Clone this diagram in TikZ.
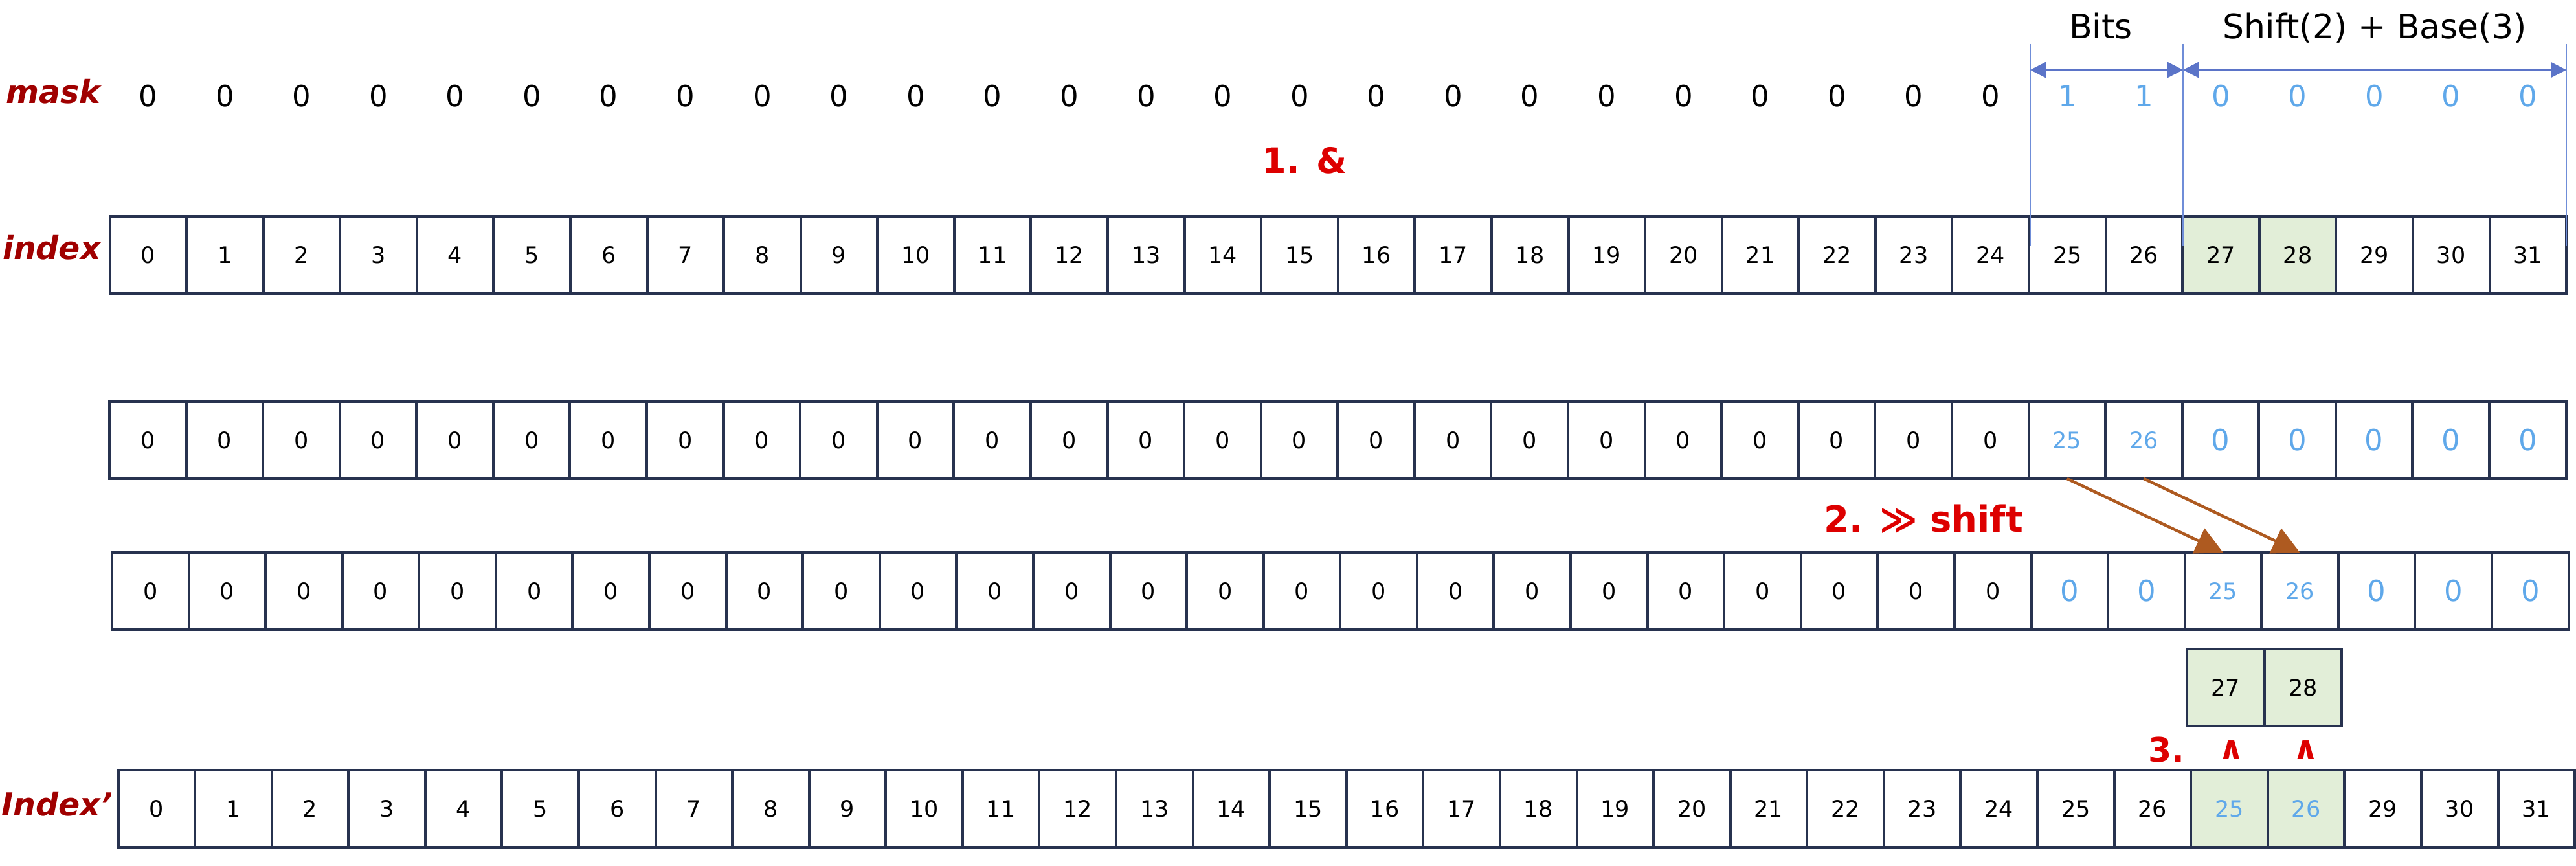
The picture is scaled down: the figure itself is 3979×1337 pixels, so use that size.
\documentclass[tikz,border=0pt]{standalone}
\usepackage{fontspec}
\setmainfont{DejaVu Sans}
\usetikzlibrary{arrows.meta}
\definecolor{navy}{HTML}{27324F}
\definecolor{bluedig}{HTML}{5FA8EA}
\definecolor{dimblue}{HTML}{5B74C8}
\definecolor{dimline}{HTML}{6F8DD8}
\definecolor{cellgreen}{HTML}{E2EED8}
\definecolor{arrowbrown}{HTML}{AE5A20}
\definecolor{stepred}{HTML}{DD0000}
\definecolor{labelred}{HTML}{A00000}
\begin{document}
\begin{tikzpicture}[x=1pt,y=-1pt,
  cell/.style={draw=navy, line width=4pt, minimum width=118.58pt, minimum height=119pt,
    inner sep=0pt, outer sep=0pt, anchor=north west, font=\fontsize{35}{40}\selectfont},
  bigblue/.style={text=bluedig, font=\fontsize{45}{50}\selectfont},
  smallblue/.style={text=bluedig},
  greencell/.style={fill=cellgreen},
  maskdig/.style={anchor=base, inner sep=0pt, font=\fontsize{45}{50}\selectfont},
  rowlabel/.style={anchor=base, inner sep=0pt, text=labelred, font=\fontsize{49}{54}\selectfont\bfseries\itshape},
  toptext/.style={anchor=base, inner sep=0pt, font=\fontsize{52}{58}\selectfont},
  steptext/.style={anchor=base, inner sep=0pt, text=stepred, font=\bfseries},
  dimvert/.style={draw=dimline, line width=2.5pt},
  dimarrow/.style={draw=dimblue, line width=2.5pt, {Triangle[length=24pt,width=24pt]}-{Triangle[length=24pt,width=24pt]}},
  shiftarrow/.style={draw=arrowbrown, line width=4.5pt, -{Triangle[length=42pt,width=42pt]}}
]
\fill[white] (0,0) rectangle (3979,1337);
\useasboundingbox (0,0) rectangle (3979,1337);

% labels
\node[rowlabel] (lmask) at (82,160) {mask};
\node[rowlabel] (lindex) at (80,400) {index};
\node[rowlabel] (lindexp) at (88,1259) {Index’};

% mask digits
\foreach \i in {0,...,31}{
  \pgfmathsetmacro\xx{169.5+(\i+0.5)*118.58}
  \ifnum\i<25 \node[maskdig] (m\i) at (\xx,165) {0};
  \else\ifnum\i<27 \node[maskdig,text=bluedig] (m\i) at (\xx,165) {1};
  \else \node[maskdig,text=bluedig] (m\i) at (\xx,165) {0};\fi\fi
}

% index row
\foreach \i in {0,...,31}{
  \pgfmathsetmacro\xx{169.5+\i*118.58}
  \ifnum\i=27 \node[cell,greencell] (a\i) at (\xx,334) {\i};
  \else\ifnum\i=28 \node[cell,greencell] (a\i) at (\xx,334) {\i};
  \else \node[cell] (a\i) at (\xx,334) {\i};\fi\fi
}

% second row
\foreach \i in {0,...,31}{
  \pgfmathsetmacro\xx{169+\i*118.58}
  \ifnum\i<25 \node[cell] (b\i) at (\xx,620) {0};
  \else\ifnum\i<27 \node[cell,smallblue] (b\i) at (\xx,620) {\i};
  \else \node[cell,bigblue] (b\i) at (\xx,620) {0};\fi\fi
}

% third row
\foreach \i in {0,...,31}{
  \pgfmathsetmacro\xx{173+\i*118.58}
  \ifnum\i<25 \node[cell] (c\i) at (\xx,853) {0};
  \else\ifnum\i<27 \node[cell,bigblue] (c\i) at (\xx,853) {0};
  \else\ifnum\i=27 \node[cell,smallblue] (c\i) at (\xx,853) {25};
  \else\ifnum\i=28 \node[cell,smallblue] (c\i) at (\xx,853) {26};
  \else \node[cell,bigblue] (c\i) at (\xx,853) {0};\fi\fi\fi\fi
}

% small box
\node[cell,greencell,minimum width=119.5pt] (s27) at (3378,1002) {27};
\node[cell,greencell,minimum width=119.5pt] (s28) at (3497.5,1002) {28};

% Index' row
\foreach \i in {0,...,31}{
  \pgfmathsetmacro\xx{182.5+\i*118.58}
  \ifnum\i=27 \node[cell,greencell,smallblue] (d\i) at (\xx,1189) {25};
  \else\ifnum\i=28 \node[cell,greencell,smallblue] (d\i) at (\xx,1189) {26};
  \else \node[cell] (d\i) at (\xx,1189) {\i};\fi\fi
}

% dimension lines
\coordinate (v1t) at (3136,68);  \coordinate (v1b) at (3136,380);
\coordinate (v2t) at (3372,68);  \coordinate (v2b) at (3372,380);
\coordinate (v3t) at (3964,68);  \coordinate (v3b) at (3964,380);
\draw[dimvert] (v1t) -- (v1b);
\draw[dimvert] (v2t) -- (v2b);
\draw[dimvert] (v3t) -- (v3b);
\coordinate (h1) at (3136,108);
\coordinate (h2) at (3372,108);
\coordinate (h3) at (3964,108);
\draw[dimarrow] (h1) -- (h2);
\draw[dimarrow] (h2) -- (h3);
\node[toptext] (bits) at (3245,60) {Bits};
\node[toptext] (shiftbase) at (3668,60) {Shift(2) + Base(3)};

% steps
\node[steptext,font=\fontsize{54}{60}\selectfont\bfseries] (step1) at (2015,268) {1. \&};
\node[steptext,font=\fontsize{56}{62}\selectfont\bfseries] (step2) at (2971,821) {2. ≫ shift};
\node[steptext,font=\fontsize{52}{58}\selectfont\bfseries] (step3) at (3346,1176) {3.};
\node[steptext,font=\fontsize{50}{56}\selectfont\bfseries] (xor1) at (3447,1172) {∧};
\node[steptext,font=\fontsize{50}{56}\selectfont\bfseries] (xor2) at (3562,1172) {∧};

% shift arrows
\draw[shiftarrow] (b25.south) -- (c27.north);
\draw[shiftarrow] (b26.south) -- (c28.north);
\end{tikzpicture}
\end{document}
